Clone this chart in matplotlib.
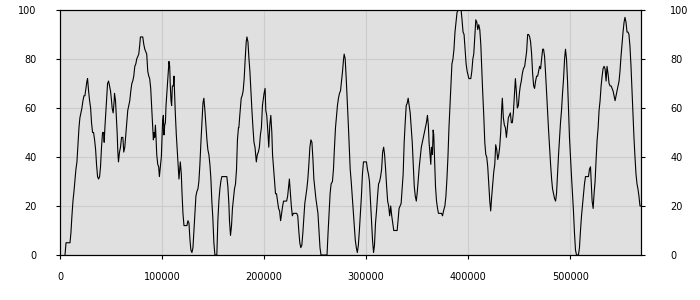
import matplotlib
matplotlib.use("Agg")
import matplotlib.pyplot as plt
import numpy as np

# ---------- data (x in data units, y in %) ----------
x_part1 = [4900, 5900, 9800, 10700, 11700, 12700, 13700, 14700, 15600, 16600,
           17600, 18600, 19500, 20500, 21500, 22500, 23500, 24400, 25400, 26400,
           27000, 28000, 29000, 30000, 30900, 31900, 32900, 33900, 34900, 35800,
           36800, 37800, 38800, 39700, 40700, 41700, 42700, 43300, 44000, 44900,
           45900, 46600, 47600, 48500, 49500, 50500, 51100, 52100, 53100, 53400,
           54400, 55000, 56000, 56700, 57300, 58300, 59300, 60300, 61600, 62500,
           63500, 64500, 65500, 66400, 67400, 68400, 69400, 70400, 71300, 72300,
           73300, 74300, 75200, 76200, 77200, 78200, 78800, 81100, 82100, 83100,
           84000, 85000, 86000, 87000, 87900, 88900, 89900, 90900, 91500, 92200,
           92800, 93500, 94100, 94800, 95800, 96700, 97400, 98400, 99300, 100000,
           100600, 101300, 101900, 102600, 103300, 103900, 104900, 105900, 106800, 107500,
           108100, 108800, 109400, 110100, 111100, 111700, 112400, 113000, 114000, 115000,
           116000, 116600, 117300, 117900, 118900, 119500, 120500, 121500, 124400, 125400,
           126400, 127400, 128300, 129300, 130300, 131300, 132200, 133200, 134200, 135200,
           136100, 137100, 138100, 139100, 140100, 141000, 142000, 143000, 144000, 144900,
           145900, 146900, 147900, 148800, 149800, 150800, 151800, 153700, 154700, 155700,
           156700, 157600, 158600, 163500, 164500, 165500, 166100, 167100, 168100, 169000,
           170000, 171000, 172000, 173000, 173900, 174900]
y_part1 = [0, 5, 5, 9, 16, 22, 26, 31, 35, 38,
           45, 52, 56, 58, 60, 63, 65, 65, 68, 71,
           72, 67, 63, 60, 54, 50, 50, 47, 43, 37,
           32, 31, 32, 36, 44, 50, 50, 46, 52, 58,
           65, 70, 71, 69, 67, 63, 60, 58, 63, 66,
           63, 58, 50, 42, 38, 42, 44, 48, 48, 42,
           44, 49, 54, 59, 61, 63, 67, 70, 71, 73,
           77, 78, 80, 81, 82, 86, 89, 89, 86, 84,
           83, 82, 75, 73, 72, 68, 60, 52, 47, 50,
           48, 53, 48, 41, 37, 36, 32, 36, 40, 48,
           55, 57, 49, 53, 54, 61, 67, 73, 79, 77,
           69, 63, 61, 69, 69, 73, 65, 58, 49, 42,
           35, 31, 35, 38, 33, 26, 17, 12, 12, 14,
           13, 6, 2, 1, 3, 10, 17, 24, 26, 27,
           30, 37, 46, 54, 62, 64, 59, 53, 47, 43,
           41, 37, 31, 22, 15, 5, 0, 0, 14, 22,
           27, 30, 32, 32, 28, 21, 14, 8, 12, 19,
           23, 27, 29, 35, 47, 52]

x_part2 = [175300, 176200, 177600, 178500, 179500, 180500, 181500, 182500, 183200, 184200,
           185200, 186100, 187100, 188100, 189100, 190100, 191100, 192400, 193400, 194400,
           195400, 196400, 197400, 198400, 199300, 200000, 201000, 201700, 202600, 203600,
           204600, 205600, 206600, 207600, 208300, 209200, 210200, 211200, 212200, 213200,
           214200, 215200, 216200, 217200, 218200, 219100, 222100, 223100, 224100, 224800,
           225700, 226700, 227700, 228700, 232000, 233000, 234000, 235000, 236000, 237000,
           238000, 238900, 239900, 240900, 241900, 242900, 243900, 244900, 245900, 246900,
           247900, 248800, 249800, 250800, 251800, 252800, 253800, 254800, 255800, 261700,
           262700, 263700, 264700, 265700, 267000, 268000, 269000, 270000, 271000, 271900,
           272900, 273900, 274900, 275900, 276900, 277900, 278500, 279500, 280500, 281500,
           282500, 283500, 284400, 285400, 286400, 287400, 288400, 289400, 290400, 291400,
           292400, 293400, 294400, 295400, 296400, 297400, 300300, 301300, 302300, 303300,
           304300, 305300, 306300, 307300, 308200, 309200, 310200, 311200, 312200, 313200,
           314200, 315200, 316200, 317200, 318100, 319100, 320100, 321100, 322100, 323100,
           324100, 325100, 326100, 327100, 330400, 331300, 332300, 333300, 334300, 335300,
           336300, 337300, 338300, 339300, 340300, 341200, 342200, 343200, 344200, 345200,
           346200, 347200, 348200, 349200, 350200, 351100, 352100, 353100, 354100, 355100,
           356100, 357100, 358100, 359100, 360100, 361000, 361700, 362700, 363400, 364000,
           365000, 365700, 366300, 367000, 368000, 369000, 370000, 370900, 373900, 374900,
           375900, 377200, 378200, 379200, 380200, 381200, 382200, 383200, 384100, 385100,
           386100, 387100, 388100, 389100, 390100, 393100, 394000, 395000, 396000, 397000,
           398000, 399000]
y_part2 = [52, 57, 64, 65, 67, 72, 80, 87, 89, 87,
           80, 75, 67, 59, 52, 46, 44, 38, 41, 42,
           44, 49, 52, 61, 64, 66, 68, 59, 57, 51,
           44, 53, 57, 50, 41, 36, 30, 25, 25, 22,
           19, 18, 14, 17, 20, 22, 22, 24, 28, 31,
           26, 20, 16, 17, 17, 16, 10, 5, 3, 4,
           9, 15, 21, 24, 27, 31, 37, 44, 47, 46,
           39, 31, 27, 23, 20, 17, 10, 3, 0, 0,
           9, 17, 25, 29, 30, 35, 44, 52, 57, 61,
           64, 66, 67, 71, 75, 80, 82, 80, 72, 63,
           54, 44, 35, 30, 24, 18, 12, 6, 3, 1,
           4, 10, 17, 24, 33, 38, 38, 35, 33, 30,
           22, 14, 6, 1, 4, 13, 18, 24, 29, 30,
           32, 35, 42, 44, 41, 35, 28, 22, 20, 16,
           20, 16, 13, 10, 10, 14, 19, 20, 21, 27,
           33, 46, 54, 61, 62, 64, 61, 58, 52, 46,
           37, 28, 24, 22, 26, 31, 36, 40, 44, 46,
           48, 50, 52, 54, 57, 53, 46, 41, 37, 44,
           41, 51, 49, 40, 28, 22, 19, 17, 17, 16,
           18, 20, 24, 31, 40, 52, 61, 70, 78, 80,
           84, 91, 95, 99, 100, 100, 96, 91, 90, 84,
           78, 75]

x_part3 = [400700, 402600, 403600, 404600, 405500, 406500, 407500, 408500, 409400, 410400,
           411400, 412400, 413400, 414300, 415300, 416300, 417300, 418200, 419200, 420200,
           421200, 422100, 423100, 424100, 425100, 426100, 427000, 428000, 429000, 430000,
           430900, 431900, 432900, 433500, 434500, 435500, 436500, 437500, 438400, 439400,
           440400, 441400, 442300, 443300, 444300, 445300, 446300, 447200, 448200, 449200,
           450200, 451100, 452100, 453100, 454100, 455400, 456300, 457300, 458300, 459300,
           460300, 461200, 462200, 463200, 464200, 465100, 466100, 467100, 468100, 469000,
           470000, 471000, 472000, 473000, 473900, 474900, 475900, 476900, 477800, 478800,
           479800, 480800, 481800, 482700, 483700, 484700, 485700, 486600, 487600, 488600,
           489600, 490500, 491500, 492500, 493500, 494500, 495400, 496400, 497400, 498400,
           499300, 500300, 501300, 502300, 503200, 504200, 505200, 506200, 508100, 509100,
           510100, 511100, 512000, 513000, 514000, 515000, 517900, 518900, 519900, 520500,
           521500, 522500, 523400, 524400, 525400, 526400, 527400, 528300, 529300, 530300,
           531300, 532200, 533200, 534200, 535200, 536100, 537100, 538100, 539100, 540100,
           541000, 542000, 543000, 544000, 544900, 545900, 546900, 547900, 548800, 549800,
           550800, 551800, 552800, 553700, 554700, 555700, 556700, 557600, 558600, 559600,
           560600, 561500, 562500, 563500, 564500, 565500, 566400, 567400, 568400, 569400]
y_part3 = [72, 72, 75, 80, 82, 89, 96, 95, 92, 94,
           92, 86, 75, 66, 57, 46, 41, 40, 36, 29,
           22, 18, 24, 29, 34, 37, 45, 43, 39, 41,
           44, 50, 60, 64, 56, 53, 52, 48, 52, 56,
           57, 58, 54, 54, 58, 65, 72, 67, 60, 61,
           66, 69, 71, 74, 76, 77, 80, 83, 90, 90,
           89, 87, 82, 74, 69, 68, 71, 73, 73, 75,
           77, 76, 80, 84, 84, 81, 74, 66, 58, 51,
           44, 37, 31, 27, 25, 23, 22, 25, 33, 41,
           48, 54, 59, 66, 72, 80, 84, 80, 71, 59,
           48, 40, 32, 25, 18, 9, 2, 0, 0, 3,
           10, 16, 20, 24, 29, 32, 32, 35, 36, 31,
           22, 19, 25, 30, 39, 47, 52, 59, 63, 69,
           73, 76, 77, 76, 71, 77, 74, 70, 69, 69,
           68, 67, 65, 63, 65, 67, 69, 71, 75, 81,
           86, 91, 95, 97, 95, 91, 91, 90, 85, 77,
           67, 58, 48, 40, 33, 29, 27, 24, 20, 20]

x_ticks = [0, 100000, 200000, 300000, 400000, 500000]
y_ticks = [0, 20, 40, 60, 80, 100]

x = np.array(x_part1 + x_part2 + x_part3)
y = np.array(y_part1 + y_part2 + y_part3)

# ---------- Plot ----------
plt.rcParams['font.family'] = ['DejaVu Sans']
fig = plt.figure(figsize=(7, 3), dpi=100)
ax = fig.add_axes([60 / 700, 45 / 300, 581 / 700, 245 / 300])
ax.set_facecolor('#e0e0e0')

ax.plot(x, y, color='black', linewidth=0.8)

ax.set_xlim(0, 569400)
ax.set_ylim(0, 100)
ax.set_xticks(x_ticks)
ax.set_xticklabels([str(t) for t in x_ticks])
ax.set_yticks(y_ticks)
ax.grid(True, color='#cccccc', linewidth=0.8)
ax.set_axisbelow(True)

for s in ax.spines.values():
    s.set_color('black')
    s.set_linewidth(0.8)

ax.tick_params(axis='x', direction='out', length=3, width=0.8, pad=9, labelsize=7)
ax.tick_params(axis='y', direction='out', length=3, width=0.8, pad=14, labelsize=7)

# right-hand copy of the y axis
ax_r = ax.twinx()
ax_r.set_ylim(0, 100)
ax_r.set_yticks(y_ticks)
ax_r.tick_params(axis='y', direction='out', length=3, width=0.8, pad=18, labelsize=7)
for s in ax_r.spines.values():
    s.set_linewidth(0.8)

fig.savefig('out.png', dpi=100)
